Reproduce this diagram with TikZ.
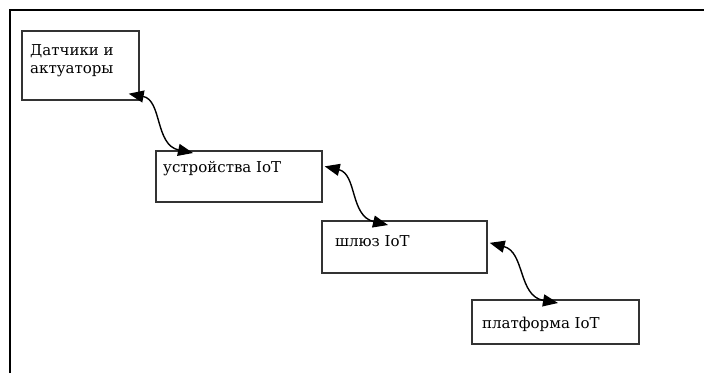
\documentclass[tikz,border=0pt]{standalone}
\usepackage{fontspec}
\setmainfont{DejaVu Serif}
\usetikzlibrary{arrows.meta,calc}

\tikzset{
  blockbox/.style={draw=black!80, line width=1.7pt, anchor=north west, inner sep=0pt},
  blocktext/.style={anchor=base west, inner sep=0pt, font=\fontsize{15}{18}\selectfont, align=left},
  link/.style={line width=1.4pt, {Triangle[length=15pt,width=12pt]}-{Triangle[length=15pt,width=12pt]}}
}

\begin{document}
\begin{tikzpicture}[x=1pt,y=-1pt]
  \useasboundingbox (0,0) rectangle (704,373);

  % outer frame: top and left edges only
  \coordinate (fl) at (10,373);
  \coordinate (fc) at (10,10);
  \coordinate (fr) at (704,10);
  \draw[line width=1.3pt] (fl) -- (fc) -- (fr);

  % blocks
  \node[blockbox, minimum width=117pt, minimum height=69pt] (b1) at (21,30) {};
  \node[blockbox, minimum width=166pt, minimum height=51pt] (b2) at (155,150) {};
  \node[blockbox, minimum width=165pt, minimum height=52pt] (b3) at (321,220) {};
  \node[blockbox, minimum width=167pt, minimum height=44pt] (b4) at (471,299) {};

  % labels
  \node[blocktext] (t1) at (30,73) {Датчики и\\актуаторы};
  \node[blocktext] (t2) at (163,172) {устройства IoT};
  \node[blocktext] (t3) at (335,246) {шлюз IoT};
  \node[blocktext] (t4) at (482,328) {платформа IoT};

  % two-way links between neighbouring blocks
  \draw[link] ($(b1.south east)+(-11,-7)$) .. controls (162,100) and (155,145) .. ($(b2.north west)+(38,3)$);
  \draw[link] ($(b2.east)+(2,-10)$) .. controls (357,174) and (350,216) .. ($(b3.north west)+(67,5)$);
  \draw[link] ($(b3.east)+(2,-4)$) .. controls (525,252) and (518,296) .. ($(b4.north west)+(87,4)$);
\end{tikzpicture}
\end{document}
